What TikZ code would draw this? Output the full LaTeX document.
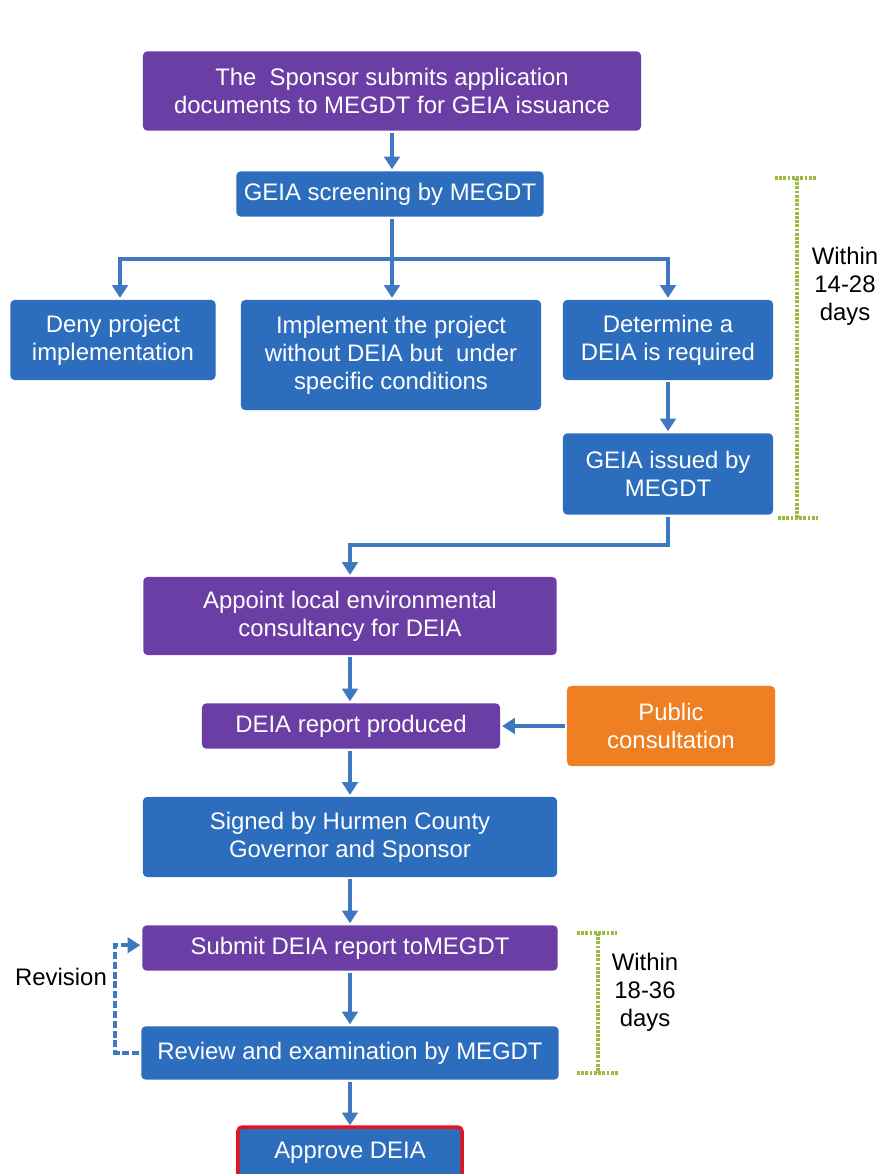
\documentclass[tikz,border=0pt]{standalone}
\usepackage{fontspec}
\setmainfont{Liberation Sans}
\usetikzlibrary{arrows.meta}

\definecolor{stepviolet}{HTML}{6B3EA6}
\definecolor{stepblue}{HTML}{2D6DBD}
\definecolor{steporange}{HTML}{EE7F22}
\definecolor{flowline}{HTML}{3F78C0}
\definecolor{spanline}{HTML}{9DBB3C}
\definecolor{finalred}{HTML}{E2141C}

\begin{document}
\begin{tikzpicture}[x=0.025cm,y=-0.025cm,line width=3pt,
    >={Triangle[length=9pt,width=11pt]},
    box/.style={rounded corners=3pt,text=white,align=center,
      font=\fontsize{17}{20}\selectfont,inner sep=0pt},
    violetbox/.style={box,fill=stepviolet},
    bluebox/.style={box,fill=stepblue},
    orangebox/.style={box,fill=steporange},
    flow/.style={draw=flowline,->},
    span/.style={draw=spanline,line width=3.5pt,dash pattern=on 2pt off 1pt},
    note/.style={align=center,font=\fontsize{17}{20}\selectfont}]
  \useasboundingbox (0,0) rectangle (880,1174);
  \clip (0,0) rectangle (880,1174);

  \node[violetbox,minimum width=12.45cm,minimum height=1.98cm] (sponsor) at (392,91)
      {The\ \ Sponsor submits application\\documents to MEGDT for GEIA issuance};
  \node[bluebox,minimum width=7.68cm,minimum height=1.13cm] (screen) at (390,194)
      {GEIA screening by MEGDT};
  \node[bluebox,minimum width=5.13cm,minimum height=2cm] (deny) at (113,340)
      {Deny project\\implementation};
  \node[bluebox,minimum width=7.5cm,minimum height=2.75cm] (implement) at (391,355)
      {Implement the project\\without DEIA but\ \ under\\specific conditions};
  \node[bluebox,minimum width=5.25cm,minimum height=2cm] (determine) at (668,340)
      {Determine a\\DEIA is required};
  \node[bluebox,minimum width=5.25cm,minimum height=2.03cm] (issued) at (668,474)
      {GEIA issued by\\MEGDT};
  \node[violetbox,minimum width=10.33cm,minimum height=1.95cm] (appoint) at (350,616)
      {Appoint local environmental\\consultancy for DEIA};
  \node[violetbox,minimum width=7.45cm,minimum height=1.13cm] (report) at (351,726)
      {DEIA report produced};
  \node[orangebox,minimum width=5.2cm,minimum height=2cm] (public) at (671,726)
      {Public\\consultation};
  \node[bluebox,minimum width=10.35cm,minimum height=2cm] (signed) at (350,837)
      {Signed by Hurmen County\\Governor and Sponsor};
  \node[violetbox,minimum width=10.38cm,minimum height=1.13cm] (submit) at (350,948)
      {Submit DEIA report toMEGDT};
  \node[bluebox,minimum width=10.43cm,minimum height=1.33cm] (review) at (350,1053)
      {Review and examination by MEGDT};
  \node[bluebox,draw=finalred,line width=2.5pt,minimum width=5.6cm,minimum height=1.3cm]
      (approve) at (350,1153) {Approve DEIA};

  \coordinate (fork) at (392,259);
  \coordinate (turn) at (668,545);

  \draw[flow] (sponsor.south) -- (sponsor.south |- screen.north);
  \draw[draw=flowline] (sponsor.south |- screen.south) -- (fork);
  \draw[flow] (fork) -| ([xshift=5pt]deny.north);
  \draw[flow] (fork) -- (fork |- implement.north);
  \draw[flow] (fork) -| (determine.north);
  \draw[flow] (determine) -- (issued);
  \draw[flow] (issued.south) -- (turn) -| (appoint.north);
  \draw[flow] (appoint.south) -- (appoint.south |- report.north);
  \draw[flow] (public.west) -- (public.west -| report.east);
  \draw[flow] (appoint.south |- report.south) -- (appoint.south |- signed.north);
  \draw[flow] (signed) -- (submit);
  \draw[flow] (submit) -- (review);
  \draw[flow] (review) -- (approve);

  % loop back for revisions
  \draw[flow,line width=2.5pt,dash pattern=on 5pt off 2pt]
      (review.west) -- ++(-24,0) |- ([yshift=2pt]submit.west);
  \node[note] (revision) at (61,977) {Revision};

  % time spans
  \draw[span] (775,178) -- (816,178) (797,178) -- (797,518) (778,518) -- (818,518);
  \node[note] (firstspan) at (845,286) {Within\\14-28\\days};
  \draw[span] (577,933) -- (617,933) (598,933) -- (598,1073) (577,1073) -- (619,1073);
  \node[note] (secondspan) at (645,992) {Within\\18-36\\days};
\end{tikzpicture}
\end{document}
